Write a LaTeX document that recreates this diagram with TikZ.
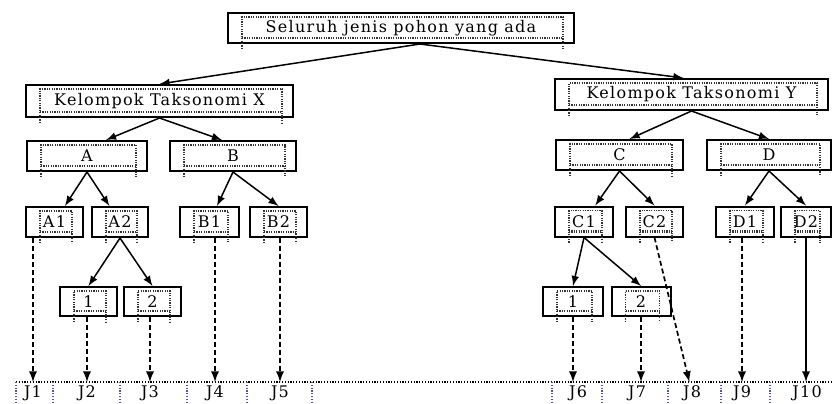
\documentclass[tikz,border=0pt]{standalone}
\usepackage{fontspec}
\newfontfamily\boxfont[LetterSpace=8]{DejaVu Serif}
\usetikzlibrary{calc}

\tikzset{
  kotak/.style={draw, line width=1pt, minimum height=15pt, inner sep=0pt,
    font=\boxfont\fontsize{8}{10}\selectfont},
  bingkai/.style={dash pattern=on 0.6pt off 0.6pt, line width=0.6pt, black!80},
  panah/.style={->, line width=0.75pt},
  putus/.style={->, line width=0.85pt, dash pattern=on 2.5pt off 1.5pt},
  garis/.style={dash pattern=on 0.6pt off 0.8pt, line width=0.6pt},
  jlabel/.style={anchor=north, inner sep=1.5pt, font=\boxfont\fontsize{8}{10}\selectfont},
}

\begin{document}
\begin{tikzpicture}[x=0.5pt,y=-0.5pt,>=latex]
\useasboundingbox (0,0) rectangle (833,403);

\node[kotak, minimum width=173pt] (top) at (401,28) {Seluruh jenis pohon yang ada};

\node[kotak, minimum width=133.5pt, minimum height=16pt] (KX) at (159.5,101) {Kelompok Taksonomi X};
\node[kotak, minimum width=136.5pt, minimum height=15.5pt] (KY) at (691.5,94.5) {Kelompok Taksonomi Y};

\node[kotak, minimum width=60pt] (A) at (87,156) {A};
\node[kotak, minimum width=63pt] (B) at (233,156) {B};
\node[kotak, minimum width=63.5pt] (C) at (619.5,155) {C};
\node[kotak, minimum width=62pt] (D) at (769,155) {D};

\node[kotak, minimum width=28.5pt] (A1) at (54.5,222) {A1};
\node[kotak, minimum width=28pt] (A2) at (120,222) {A2};
\node[kotak, minimum width=29.5pt] (B1) at (209.5,222) {B1};
\node[kotak, minimum width=28.5pt] (B2) at (278.5,222) {B2};
\node[kotak, minimum width=29pt] (C1) at (584,221.5) {C1};
\node[kotak, minimum width=28.5pt] (C2) at (654.5,221.5) {C2};
\node[kotak, minimum width=29pt] (D1) at (745,221.5) {D1};
\node[kotak, minimum width=25pt] (D2) at (806,221.5) {D2};

\node[kotak, minimum width=28.5pt, minimum height=14.5pt] (A21) at (88.5,301.5) {1};
\node[kotak, minimum width=28.5pt, minimum height=14.5pt] (A22) at (152.5,301.5) {2};
\node[kotak, minimum width=30pt, minimum height=14.5pt] (C11) at (573,301.5) {1};
\node[kotak, minimum width=29.5pt, minimum height=14.5pt] (C12) at (641,301.5) {2};

% dotted text frames
\foreach \n in {top,KX,KY,A,B,C,D,A1,A2,B1,B2,C1,C2,D1,D2,A21,A22,C11,C12}{
  \draw[bingkai] ($(\n.south west)+(15,5)$) -- ($(\n.north west)+(15,5)$)
    -- ($(\n.north east)+(-12,5)$) -- ($(\n.south east)+(-12,5)$);
  \draw[bingkai, line width=1.1pt] ($(\n.south west)+(15,-6)$) -- ($(\n.south east)+(-12,-6)$);
}

\coordinate (pusat) at ($(top.south)+(19,0)$);
\draw[panah] (pusat) -- (KX.north);
\draw[panah] (pusat) -- ($(KY.north)+(-8,0)$);
\draw[panah] (KX.south) -- ($(A.north)+(19,0)$);
\draw[panah] (KX.south) -- ($(B.north)+(-11,0)$);
\draw[panah] (KY.south) -- ($(C.north)+(10,0)$);
\draw[panah] (KY.south) -- (D.north);
\draw[panah] (A.south) -- (A1);
\draw[panah] (A.south) -- (A2);
\draw[panah] (B.south) -- (B1);
\draw[panah] (B.south) -- (B2.north);
\draw[panah] (C.south) -- (C1);
\draw[panah] (C.south) -- (C2.north);
\draw[panah] (D.south) -- (D1.north);
\draw[panah] (D.south) -- (D2.north);
\draw[panah] (A2.south) -- (A21.north);
\draw[panah] (A2.south) -- (A22.north);
\draw[panah] (C1.south) -- (C11.north);
\draw[panah] (C1.south) -- (C12.north);

% bottom row
\draw[garis] (16,382) -- (833,382);
\foreach \x in {16,53,120,187,247,312,552,602,668,721,770}
  \draw[garis, blue!35!gray] (\x,382) -- (\x,403);

\node[jlabel] (J1) at (33,382) {J1};
\node[jlabel] (J2) at (87,382) {J2};
\node[jlabel] (J3) at (150,382) {J3};
\node[jlabel] (J4) at (215,382) {J4};
\node[jlabel] (J5) at (280,382) {J5};
\node[jlabel] (J6) at (578,382) {J6};
\node[jlabel] (J7) at (637,382) {J7};
\node[jlabel] (J8) at (692,382) {J8};
\node[jlabel] (J9) at (742,382) {J9};
\node[jlabel] (J10) at (807,382) {J10};

\draw[putus] (A1.south -| J1) -- (J1);
\draw[putus] (A21.south -| J2) -- (J2);
\draw[putus] (A22.south -| J3) -- (J3);
\draw[putus] (B1.south -| J4) -- (J4);
\draw[putus] (B2.south -| J5) -- (J5);
\draw[putus] (C11.south) -- (C11.south |- J6.north);
\draw[putus] (C12.south) -- (C12.south |- J7.north);
\draw[putus] (C2.south) -- (J8);
\draw[putus] (D1.south -| J9) -- (J9);
\draw[->, line width=0.85pt] (D2.south) -- (D2.south |- J10.north);

\end{tikzpicture}
\end{document}
